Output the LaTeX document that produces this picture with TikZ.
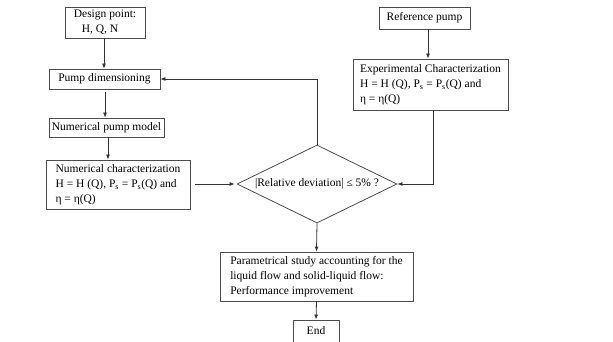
\documentclass[tikz,border=0pt]{standalone}
\usepackage{fontspec}
\setmainfont{Liberation Serif}
\usetikzlibrary{shapes.geometric,arrows.meta,positioning}
\tikzset{
  box/.style={rectangle, draw=black!70, line width=0.8pt, align=left, inner sep=2pt, font=\fontsize{11.5}{15}\selectfont},
  decision/.style={diamond, draw=black!70, line width=0.8pt, inner sep=0pt},
  arr/.style={-{Latex[length=5pt,width=4pt]}, draw=black!80, line width=0.8pt},
  link/.style={draw=black!80, line width=0.8pt}
}
\begin{document}
\begin{tikzpicture}[x=1pt,y=-1pt]
\useasboundingbox (0,0) rectangle (613,342);
\node[box, minimum width=80pt, minimum height=31pt] (design) at (105,22.5) {Design point:\\\hspace*{8pt}H, Q, N};
\node[box, minimum width=111pt, minimum height=20pt] (dim) at (104.5,79) {Pump dimensioning};
\node[box, minimum width=115pt, minimum height=19pt] (model) at (106.5,127.5) {Numerical pump model};
\node[box, minimum width=144pt, minimum height=49pt] (numchar) at (118,184.5) {Numerical characterization\\H = H (Q), P\textsubscript{s} = P\textsubscript{s}(Q) and\\η = η(Q)};
\node[box, minimum width=91pt, minimum height=22pt] (ref) at (424.5,18) {Reference pump};
\node[box, minimum width=155pt, minimum height=51pt] (exp) at (430.5,84.5) {Experimental Characterization\\H = H (Q), P\textsubscript{s} = P\textsubscript{s}(Q) and\\η = η(Q)};
\node[decision, minimum width=160pt, minimum height=78pt] (dev) at (317,184) {};
\node[font=\fontsize{11.5}{15}\selectfont, inner sep=0pt] (devtext) at (dev.center) {|Relative deviation| ≤ 5\% ?};
\node[box, minimum width=193pt, minimum height=49pt] (param) at (316.5,276.5) {Parametrical study accounting for the\\liquid flow and solid-liquid flow:\\Performance improvement};
\node[box, minimum width=46pt, minimum height=22pt] (end) at (316,331) {End};

\draw[arr] (design.south -| 104,0) -- (dim.north -| 104,0);
\draw[arr, shorten <=3pt] (dim.south -| 105,0) -- (model.north -| 105,0);
\draw[arr] (model.south -| 108,0) -- (numchar.north -| 108,0);
\draw[arr, shorten <=5pt, shorten >=2pt] (numchar.east |- dev.west) -- (dev.west);
\draw[arr] (dev.north) |- (dim.east);
\draw[arr] (ref.south -| 428,0) -- (exp.north -| 428,0);
\draw[arr] (exp.south -| 433,0) |- (dev.east);
\draw[arr] (dev.south) -- (param.north);
\draw[arr] (param.south) -- (end.north);
\end{tikzpicture}
\end{document}
